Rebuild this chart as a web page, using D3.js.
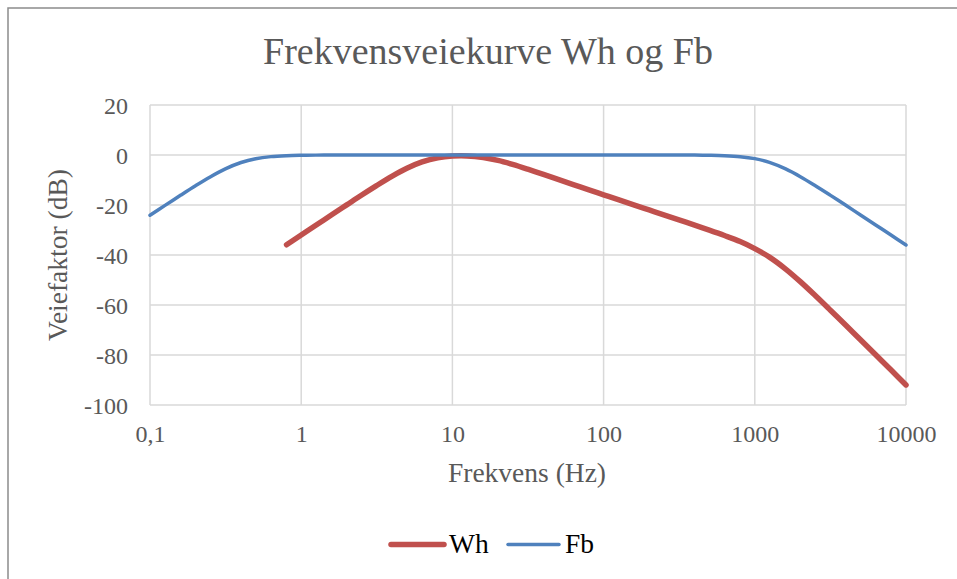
<!DOCTYPE html>
<html>
<head>
<meta charset="utf-8">
<script src="https://cdn.jsdelivr.net/npm/d3@7"></script>
<style>
  html, body { margin: 0; padding: 0; background: #fff; }
  svg { display: block; }
  text { font-family: "Liberation Serif", "DejaVu Serif", serif; }
</style>
</head>
<body>
<svg id="chart" width="957" height="579"></svg>
<script>
// ---- data ----
const freqsFb = [0.1, 0.125, 0.16, 0.2, 0.25, 0.315, 0.4, 0.5, 0.63, 0.8, 1, 1.25, 1.6, 2, 2.5, 3.15, 4, 5, 6.3, 8, 10, 12.5, 16, 20, 25, 31.5, 40, 50, 63, 80, 100, 125, 160, 200, 250, 315, 400, 500, 630, 800, 1000, 1250, 1600, 2000, 2500, 3150, 4000, 5000, 6300, 8000, 10000];
const valuesFb = [-24.1, -20.25, -16.03, -12.3, -8.78, -5.56, -3.01, -1.49, -0.65, -0.26, -0.11, -0.05, -0.02, -0.01, 0, 0, 0, 0, 0, 0, 0, 0, 0, 0, 0, 0, 0, 0, 0, 0, 0, 0, 0, 0, -0.01, -0.02, -0.04, -0.11, -0.27, -0.66, -1.45, -2.95, -5.57, -8.67, -12.19, -16.04, -20.12, -23.98, -27.98, -32.13, -36.01];
const freqsWh = [0.8, 1, 1.25, 1.6, 2, 2.5, 3.15, 4, 5, 6.3, 8, 10, 12.5, 16, 20, 25, 31.5, 40, 50, 63, 80, 100, 125, 160, 200, 250, 315, 400, 500, 630, 800, 1000, 1250, 1600, 2000, 2500, 3150, 4000, 5000, 6300, 8000, 10000];
const valuesWh = [-35.9, -32.0, -28.1, -23.83, -19.96, -16.1, -12.24, -8.44, -5.31, -2.78, -1.14, -0.43, -0.37, -0.99, -2.15, -3.75, -5.66, -7.76, -9.76, -11.82, -13.94, -15.91, -17.86, -20.02, -21.97, -23.92, -25.94, -28.05, -30.05, -32.21, -34.62, -37.43, -40.85, -45.62, -50.65, -56.11, -61.97, -68.11, -73.9, -79.91, -86.12, -91.98];
const xTicks = [0.1, 1, 10, 100, 1000, 10000];
const xTickLabels = ["0,1", "1", "10", "100", "1000", "10000"];
const yTicks = [20, 0, -20, -40, -60, -80, -100];
const seriesNames = ["Wh", "Fb"];
const titleText = "Frekvensveiekurve Wh og Fb";
const xTitle = "Frekvens (Hz)";
const yTitle = "Veiefaktor (dB)";

// ---- layout ----
const svg = d3.select("#chart");
const L = 150, R = 906, T = 105, B = 405;
const x = d3.scaleLog().domain([0.1, 10000]).range([L, R]);
const y = d3.scaleLinear().domain([-100, 20]).range([B, T]);
const textGray = "#595959";
const gridColor = "#d9d9d9";
const colWh = "#c0504d", colFb = "#4f81bd";

// outer chart border
svg.append("rect").attr("x", 8).attr("y", 8).attr("width", 1000).attr("height", 700)
  .attr("fill", "#fff").attr("stroke", "#8c8c8c").attr("stroke-width", 1.5);

// title
svg.append("text").attr("x", 488).attr("y", 64).attr("text-anchor", "middle")
  .attr("font-size", 38).attr("fill", textGray).text(titleText);

// gridlines
const grid = svg.append("g");
grid.selectAll("line.h").data(yTicks).join("line").attr("class", "h")
  .attr("x1", L).attr("x2", R).attr("y1", d => y(d)).attr("y2", d => y(d))
  .attr("stroke", gridColor).attr("stroke-width", 1.5);
grid.selectAll("line.v").data(xTicks).join("line").attr("class", "v")
  .attr("y1", T).attr("y2", B).attr("x1", d => x(d)).attr("x2", d => x(d))
  .attr("stroke", gridColor).attr("stroke-width", 1.5);

// y axis
const yAxis = d3.axisLeft(y).tickValues(yTicks).tickSize(0).tickPadding(22).tickFormat(d => String(d).replace("-", "-"));
const gy = svg.append("g").attr("transform", `translate(${L},0)`).call(yAxis);
gy.select(".domain").remove();
gy.selectAll("text").attr("font-size", 24).attr("fill", textGray)
  .attr("font-family", "Liberation Serif").attr("dy", "0.34em");

// x axis
const xAxis = d3.axisBottom(x).tickValues(xTicks).tickSize(0).tickPadding(20)
  .tickFormat((d, i) => xTickLabels[i]);
const gx = svg.append("g").attr("transform", `translate(0,${B})`).call(xAxis);
gx.select(".domain").remove();
gx.selectAll("text").attr("font-size", 24).attr("fill", textGray)
  .attr("font-family", "Liberation Serif");

// axis titles
svg.append("text").attr("x", 527).attr("y", 482).attr("text-anchor", "middle")
  .attr("font-size", 27.5).attr("fill", textGray).text(xTitle);
svg.append("text").attr("transform", "translate(67,255) rotate(-90)").attr("text-anchor", "middle")
  .attr("font-size", 27.5).attr("fill", textGray).text(yTitle);

// lines
const line = d3.line().x(d => x(d[0])).y(d => y(d[1])).curve(d3.curveCatmullRom.alpha(0.5));
const dataWh = freqsWh.map((f, i) => [f, valuesWh[i]]);
const dataFb = freqsFb.map((f, i) => [f, valuesFb[i]]);
svg.append("path").datum(dataWh).attr("d", line).attr("fill", "none")
  .attr("stroke", colWh).attr("stroke-width", 5.5).attr("stroke-linecap", "round").attr("stroke-linejoin", "round");
svg.append("path").datum(dataFb).attr("d", line).attr("fill", "none")
  .attr("stroke", colFb).attr("stroke-width", 3.5).attr("stroke-linecap", "round").attr("stroke-linejoin", "round");

// legend
const legend = [
  { name: seriesNames[0], color: colWh, w: 5.5, x1: 391, x2: 444, tx: 449 },
  { name: seriesNames[1], color: colFb, w: 3.5, x1: 508, x2: 559, tx: 565 }
];
const lg = svg.append("g");
legend.forEach(d => {
  lg.append("line").attr("x1", d.x1).attr("x2", d.x2).attr("y1", 544.5).attr("y2", 544.5)
    .attr("stroke", d.color).attr("stroke-width", d.w).attr("stroke-linecap", "round");
  lg.append("text").attr("x", d.tx).attr("y", 553).attr("font-size", 27.5).attr("fill", "#000").text(d.name);
});
</script>
</body>
</html>
